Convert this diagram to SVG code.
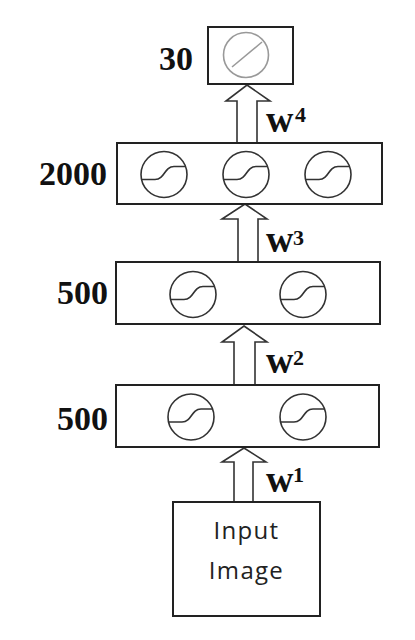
<svg xmlns="http://www.w3.org/2000/svg" width="415" height="640" viewBox="0 0 415 640">
<style>
.box{fill:#fff;stroke:#222;stroke-width:2}
.num{font-family:"Liberation Serif","Times New Roman",serif;font-weight:bold;font-size:34px;fill:#111}
.w{font-family:"Liberation Serif","Times New Roman",serif;font-weight:bold;font-size:38px;fill:#111}
.sup{font-family:"Liberation Serif","Times New Roman",serif;font-weight:bold;font-size:22px;fill:#111}
.arrow{fill:#fff;stroke:#333;stroke-width:1.6;stroke-linejoin:miter}
.unit{fill:none;stroke:#333;stroke-width:1.6}
.lin{fill:none;stroke:#999;stroke-width:1.6}
.in{font-family:"Open Sans","Liberation Sans",sans-serif;font-size:24px;fill:#222;letter-spacing:1.3px}
</style>
<defs>
<g id="sig">
<circle cx="0" cy="0" r="23" class="unit"/>
<path d="M-22.5,5 H-9 C1,5 0,-8 10,-8 H21.5" class="unit"/>
</g>
</defs>
<g id="connectors">
<polygon class="arrow" points="247,85 270,101 257,101 257,143 237,143 237,101 226,101"/>
<polygon class="arrow" points="245,204 267,219 258,219 258,262 238,262 238,219 222,219"/>
<polygon class="arrow" points="244,326 267,342 255,342 255,385 234,385 234,342 222,342"/>
<polygon class="arrow" points="244,448 266,462 253,462 253,502 234,502 234,462 222,462"/>
<text class="w" x="266" y="132">w</text><text class="sup" x="295" y="122">4</text>
<text class="w" x="266" y="252">w</text><text class="sup" x="293" y="245">3</text>
<text class="w" x="266" y="373">w</text><text class="sup" x="293" y="365">2</text>
<text class="w" x="266" y="492">w</text><text class="sup" x="293" y="482">1</text>
</g>
<g id="layer-out">
<rect class="box" x="208" y="27" width="85" height="57"/>
<circle cx="246" cy="55" r="22.5" class="lin"/>
<line x1="232" y1="67" x2="262" y2="42" class="lin"/>
<text class="num" x="193" y="70" text-anchor="end">30</text>
</g>
<g id="layer-2000">
<rect class="box" x="117" y="143" width="265" height="61"/>
<use href="#sig" x="164" y="174.5"/>
<use href="#sig" x="246" y="174.5"/>
<use href="#sig" x="328" y="174.5"/>
<text class="num" x="107" y="185" text-anchor="end">2000</text>
</g>
<g id="layer-500b">
<rect class="box" x="116" y="262" width="264" height="62"/>
<use href="#sig" x="193" y="294.5"/>
<use href="#sig" x="303" y="294.5"/>
<text class="num" x="108" y="304" text-anchor="end">500</text>
</g>
<g id="layer-500a">
<rect class="box" x="116" y="385" width="263" height="62"/>
<use href="#sig" x="191" y="417"/>
<use href="#sig" x="303" y="417"/>
<text class="num" x="108" y="430" text-anchor="end">500</text>
</g>
<g id="input">
<rect class="box" x="173" y="502" width="147" height="114"/>
<text class="in" x="246.5" y="539" text-anchor="middle">Input</text>
<text class="in" x="246.5" y="579" text-anchor="middle">Image</text>
</g>
</svg>
